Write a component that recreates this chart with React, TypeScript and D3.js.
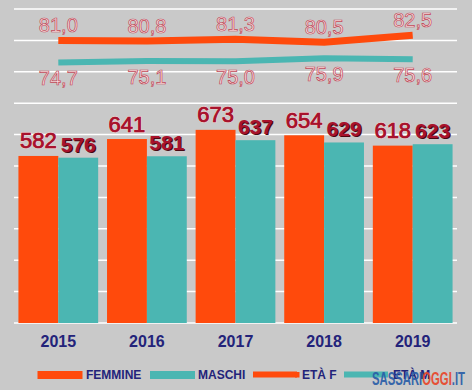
import React from "react";
import * as d3 from "d3";

const years = ["2015", "2016", "2017", "2018", "2019"];
const femmine = [582, 641, 673, 654, 618];
const maschi = [576, 581, 637, 629, 623];
const etaF = [81.0, 80.8, 81.3, 80.5, 82.5];
const etaM = [74.7, 75.1, 75.0, 75.9, 75.6];
const etaFLabels = ["81,0", "80,8", "81,3", "80,5", "82,5"];
const etaMLabels = ["74,7", "75,1", "75,0", "75,9", "75,6"];
const legendLabels = ["FEMMINE", "MASCHI", "ETÀ F", "ETÀ M"];
const gridTicks = d3.range(0, 91, 9);

const W = 472;
const H = 390;
const ORANGE = "#ff4a0c";
const TEAL = "#4bb6b2";
const BG = "#c9c9c9";
const NAVY = "#23237a";
const LABEL_RED = "#a8122c";
const FONT = "'Liberation Sans', Arial, sans-serif";

export default function App() {
  const x = d3.scaleBand<string>().domain(years).range([14, 457]).paddingInner(0.1).paddingOuter(0.05);
  const bw = x.bandwidth() / 2;
  const yBar = d3.scaleLinear().domain([0, 1100]).range([323, 7.3]);
  const yAge = d3.scaleLinear().domain([0, 90]).range([323, 9]);
  const cx = (yr: string) => (x(yr) as number) + x.bandwidth() / 2;

  const line = d3
    .line<number>()
    .x((_, i) => cx(years[i]))
    .y((d) => yAge(d));

  return (
    <svg width={W} height={H} style={{ position: "absolute", left: 0, top: 0 }} fontFamily={FONT}>
      <rect x={0} y={0} width={W} height={H} fill={BG} />
      {gridTicks.map((t) => (
        <line key={t} x1={14} x2={457} y1={yAge(t)} y2={yAge(t)} stroke="#ffffff" strokeWidth={1.5} />
      ))}
      {years.map((yr, i) => (
        <g key={yr}>
          <rect x={x(yr)} y={yBar(femmine[i])} width={bw} height={yBar(0) - yBar(femmine[i])} fill={ORANGE} />
          <rect x={(x(yr) as number) + bw} y={yBar(maschi[i])} width={bw} height={yBar(0) - yBar(maschi[i])} fill={TEAL} />
        </g>
      ))}
      <path d={line(etaF) || ""} fill="none" stroke={ORANGE} strokeWidth={7} />
      <path d={line(etaM) || ""} fill="none" stroke={TEAL} strokeWidth={6} />
      {years.map((yr, i) => (
        <g key={"l" + yr}>
          <text
            x={(x(yr) as number) + bw / 2}
            y={yBar(femmine[i]) - 7.5}
            textAnchor="middle"
            fontSize={22}
            fill={LABEL_RED}
            stroke="#f5d0d0"
            strokeWidth={1.4}
            paintOrder="stroke"
          >
            {femmine[i]}
          </text>
          <text
            x={(x(yr) as number) + bw / 2}
            y={yBar(femmine[i]) - 7.5}
            textAnchor="middle"
            fontSize={22}
            fill={LABEL_RED}
            stroke={LABEL_RED}
            strokeWidth={0.6}
          >
            {femmine[i]}
          </text>
          <text
            x={(x(yr) as number) + bw * 1.5 + 1.2}
            y={yBar(maschi[i]) - 5}
            textAnchor="middle"
            fontSize={21}
            fontWeight="bold"
            fill="#4a0812"
          >
            {maschi[i]}
          </text>
          <text
            x={(x(yr) as number) + bw * 1.5}
            y={yBar(maschi[i]) - 6}
            textAnchor="middle"
            fontSize={21}
            fontWeight="bold"
            fill={LABEL_RED}
          >
            {maschi[i]}
          </text>
          <text
            x={cx(yr)}
            y={yAge(etaF[i]) - 8.5}
            textAnchor="middle"
            fontSize={20}
            fill="#fbe6e6"
            stroke="#c04858"
            strokeWidth={0.7}
          >
            {etaFLabels[i]}
          </text>
          <text
            x={cx(yr)}
            y={yAge(etaM[i]) + 23}
            textAnchor="middle"
            fontSize={20}
            fill="#fbe6e6"
            stroke="#c04858"
            strokeWidth={0.7}
          >
            {etaMLabels[i]}
          </text>
          <text x={cx(yr)} y={346.5} textAnchor="middle" fontSize={16} fontWeight="bold" fill={NAVY}>
            {yr}
          </text>
        </g>
      ))}
      {/* legend */}
      <rect x={37.5} y={371} width={45} height={8} fill={ORANGE} />
      <text x={86} y={378.5} fontSize={12} fontWeight="bold" fill={NAVY}>{legendLabels[0]}</text>
      <rect x={150} y={371} width={45} height={8} fill={TEAL} />
      <text x={198} y={378.5} fontSize={12} fontWeight="bold" fill={NAVY}>{legendLabels[1]}</text>
      <line x1={253} x2={297} y1={374.5} y2={374.5} stroke={ORANGE} strokeWidth={6} />
      <rect x={295} y={372} width={4.5} height={5.5} fill={ORANGE} />
      <text x={302} y={378.5} fontSize={12} fontWeight="bold" fill={NAVY}>{legendLabels[2]}</text>
      <line x1={344} x2={388} y1={374.5} y2={374.5} stroke={TEAL} strokeWidth={6} />
      <text x={393} y={378.5} fontSize={12} fontWeight="bold" fill={NAVY}>{legendLabels[3]}</text>
      {/* watermark */}
      <text x={372} y={385} fontSize={19} fontWeight="bold" textLength={93} lengthAdjust="spacingAndGlyphs" opacity={0.92}>
        <tspan fill="#2b5ea8">SASSARI</tspan>
        <tspan fill="#e8462a">OGGI</tspan>
        <tspan fill="#2b5ea8">.IT</tspan>
      </text>
    </svg>
  );
}
